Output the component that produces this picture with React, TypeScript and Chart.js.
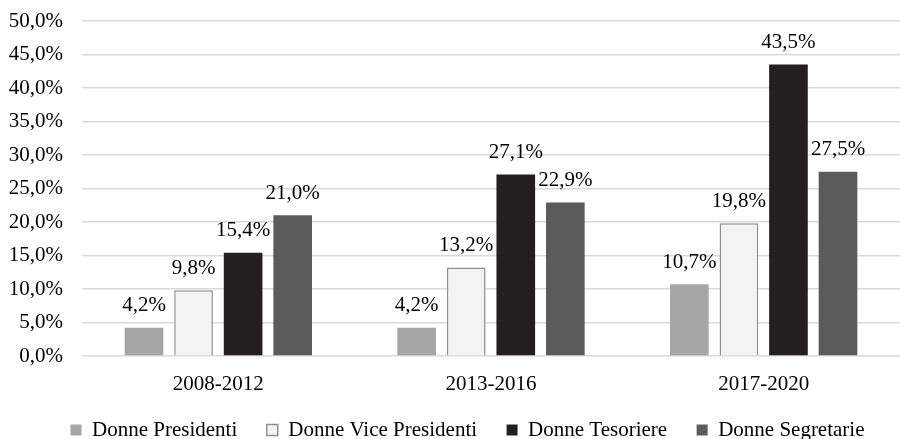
import React, { useEffect, useRef } from "react";
import { Chart, registerables } from "chart.js";

Chart.register(...registerables);

const categories = ["2008-2012", "2013-2016", "2017-2020"];
const seriesNames = ["Donne Presidenti", "Donne Vice Presidenti", "Donne Tesoriere", "Donne Segretarie"];
const presidenti = [4.2, 4.2, 10.7];
const vicePresidenti = [9.8, 13.2, 19.8];
const tesoriere = [15.4, 27.1, 43.5];
const segretarie = [21.0, 22.9, 27.5];
const fillColors = ["#a6a6a7", "#f2f3f2", "#231f20", "#5b5b5b"];
const borderColors = ["#a6a6a7", "#8e8e8e", "#231f20", "#5b5b5b"];

const FONT = "'Liberation Serif', 'Times New Roman', serif";
const fmt = (v: number) => v.toFixed(1).replace(".", ",") + "%";

const labelPlugin = {
  id: "valueLabels",
  afterLayout(chart: any) {
    if (chart.legend) {
      chart.legend.left += 14;
      chart.legend.right += 14;
      chart.legend.top -= 6;
      chart.legend.bottom -= 6;
    }
  },
  afterDatasetsDraw(chart: any) {
    const ctx = chart.ctx;
    ctx.save();
    ctx.font = `21px ${FONT}`;
    ctx.fillStyle = "#000";
    ctx.textAlign = "center";
    ctx.textBaseline = "middle";
    chart.data.datasets.forEach((ds: any, i: number) => {
      const meta = chart.getDatasetMeta(i);
      meta.data.forEach((el: any, j: number) => {
        ctx.fillText(fmt(ds.data[j]), el.x, el.y - 22);
      });
    });
    ctx.restore();
  },
};

export default function App() {
  const ref = useRef<HTMLCanvasElement>(null);
  useEffect(() => {
    document.body.style.margin = "0";
    const values = [presidenti, vicePresidenti, tesoriere, segretarie];
    const chart = new Chart(ref.current!, {
      type: "bar",
      data: {
        labels: categories,
        datasets: seriesNames.map((name, i) => ({
          label: name,
          data: values[i],
          backgroundColor: fillColors[i],
          borderColor: borderColors[i],
          borderWidth: i === 1 ? 1.5 : 0,
          categoryPercentage: 0.727,
          barPercentage: 0.78,
        })),
      },
      options: {
        responsive: false,
        animation: false,
        layout: { padding: { left: 0, right: -7, top: 0, bottom: -17.5 } },
        plugins: {
          legend: {
            position: "bottom",
            labels: {
              font: { family: FONT, size: 21 },
              color: "#000",
              boxWidth: 11,
              boxHeight: 11,
              padding: 29.5,
            },
          },
          tooltip: { enabled: false },
        },
        scales: {
          x: {
            grid: { display: false },
            border: { display: false },
            ticks: { font: { family: FONT, size: 21 }, color: "#000", padding: 8 },
            afterFit: (s: any) => {
              s.height = 40;
            },
          },
          y: {
            min: 0,
            max: 50,
            border: { display: false },
            grid: { color: "#d9d9d9", lineWidth: 1.5, drawTicks: false },
            ticks: {
              stepSize: 5,
              font: { family: FONT, size: 21 },
              color: "#000",
              padding: 19,
              callback: (v: any) => fmt(Number(v)),
            },
            afterFit: (s: any) => {
              s.width = 82;
              s.paddingTop = 21;
              s.paddingBottom = 0;
            },
          },
        },
      },
      plugins: [labelPlugin],
    });
    return () => chart.destroy();
  }, []);
  return <canvas ref={ref} width={900} height={439} style={{ display: "block" }} />;
}
